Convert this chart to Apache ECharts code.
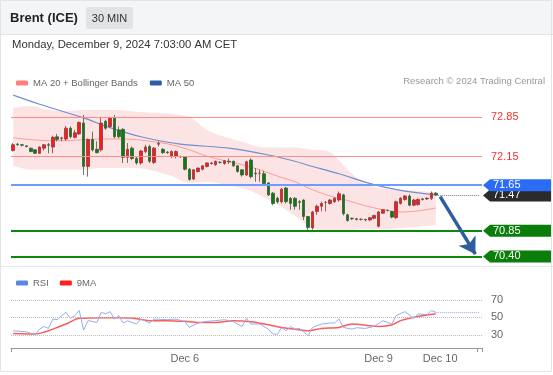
<!DOCTYPE html>
<html>
<head>
<meta charset="utf-8">
<script src="https://cdn.jsdelivr.net/npm/echarts@6/dist/echarts.min.js"></script>
<style>
html,body{margin:0;padding:0;background:#fff;}
#chart{width:553px;height:375px;}
</style>
</head>
<body>
<div id="chart"></div>
<script>
// ---------------- DATA ----------------
// candles: [open, close, low, high]
const ohlc = [
[72.26,72.36,72.24,72.39],[72.37,72.36,72.34,72.39],[72.36,72.35,72.33,72.37],[72.34,72.33,72.31,72.35],
[72.30,72.24,72.23,72.31],[72.27,72.21,72.20,72.28],[72.21,72.32,72.20,72.33],[72.30,72.36,72.26,72.37],
[72.36,72.35,72.21,72.39],[72.32,72.49,72.21,72.52],[72.50,72.45,72.42,72.55],[72.47,72.48,72.42,72.50],
[72.46,72.65,72.43,72.69],[72.65,72.50,72.47,72.68],[72.49,72.57,72.47,72.62],[72.55,72.75,72.53,72.77],
[72.74,71.98,71.83,72.88],[71.98,72.45,71.80,72.47],[72.45,72.27,72.24,72.59],[72.28,72.22,72.21,72.42],
[72.27,72.74,72.24,72.85],[72.77,72.65,72.62,72.80],[72.68,72.83,72.65,72.85],[72.83,72.50,72.47,72.88],
[72.62,72.50,72.47,72.68],[72.63,72.14,72.04,72.65],[72.14,72.28,72.04,72.39],[72.30,72.12,72.09,72.33],
[72.12,72.04,72.01,72.15],[72.04,72.25,72.01,72.27],[72.24,72.32,72.21,72.36],[72.33,72.07,72.04,72.36],
[72.05,72.30,72.02,72.32],[72.37,72.38,72.33,72.42],[72.28,72.22,72.20,72.30],[72.23,72.22,72.20,72.25],
[72.15,72.24,72.13,72.26],[72.16,72.24,72.12,72.26],[72.15,72.15,72.13,72.17],[72.15,71.93,71.91,72.16],
[71.93,71.75,71.73,71.95],[71.76,71.92,71.74,71.93],[71.89,71.95,71.87,71.96],[71.93,71.99,71.91,72.00],
[71.98,72.04,71.96,72.05],[72.03,72.04,72.01,72.06],[72.01,72.07,71.99,72.08],[72.05,72.05,72.03,72.07],
[72.03,72.08,72.01,72.09],[72.07,72.06,72.02,72.12],[72.07,71.99,71.97,72.08],[71.99,71.89,71.87,72.00],
[71.92,71.83,71.80,71.93],[71.83,72.06,71.81,72.08],[72.09,71.80,71.77,72.12],[71.86,71.85,71.71,71.95],
[71.86,71.86,71.71,71.92],[71.85,71.68,71.65,71.90],[71.69,71.48,71.46,71.70],[71.51,71.33,71.30,71.53],
[71.42,71.36,71.33,71.45],[71.36,71.58,71.33,71.60],[71.60,71.36,71.33,71.62],[71.42,71.33,71.22,71.44],
[71.42,71.28,71.22,71.44],[71.36,71.35,71.22,71.39],[71.39,71.10,71.04,71.40],[71.10,70.91,70.87,71.11],
[70.90,71.18,70.87,71.20],[71.19,71.28,71.13,71.31],[71.28,71.33,71.19,71.36],[71.35,71.35,71.19,71.37],
[71.33,71.39,71.31,71.41],[71.36,71.42,71.34,71.44],[71.39,71.50,71.36,71.54],[71.48,71.15,71.12,71.50],
[71.13,71.03,71.01,71.15],[71.07,71.06,71.04,71.08],[71.06,71.05,71.03,71.07],[71.05,71.05,71.03,71.07],
[71.05,71.04,71.02,71.06],[71.04,71.08,71.02,71.09],[71.07,71.12,71.05,71.13],[70.93,71.18,70.91,71.20],
[71.16,71.22,71.15,71.23],[71.21,71.21,71.19,71.22],[71.19,71.09,71.07,71.20],[71.08,71.36,71.06,71.38],
[71.33,71.42,71.31,71.44],[71.40,71.46,71.38,71.48],[71.46,71.30,71.28,71.49],[71.30,71.39,71.28,71.41],
[71.31,71.40,71.29,71.42],[71.40,71.41,71.38,71.43],[71.41,71.42,71.39,71.44],[71.42,71.51,71.39,71.54],
[71.51,71.48,71.46,71.53]
];
const futureSlots = 10;

// MA 20 + Bollinger bands (read at every 4th candle)
const bandIdx = [0,4,8,12,16,20,24,28,32,36,40,44,48,52,56,60,64,68,72,76,80,84,88,92,96];
const ma20    = [72.48,72.45,72.43,72.43,72.45,72.46,72.46,72.45,72.41,72.36,72.27,72.16,72.08,72.01,71.92,71.81,71.71,71.57,71.46,71.38,71.29,71.22,71.18,71.20,71.25];
const bbUpper = [73.01,73.04,72.97,72.95,72.97,72.97,72.97,72.94,72.92,72.90,72.85,72.62,72.50,72.41,72.32,72.31,72.31,72.27,72.23,71.92,71.67,71.59,71.57,71.55,71.53];
const bbLower = [71.99,71.92,71.92,71.92,71.92,71.95,71.95,71.95,71.90,71.81,71.69,71.71,71.66,71.60,71.48,71.31,71.11,70.90,70.85,70.85,70.88,70.88,70.90,70.92,70.95];

// MA 50
const ma50Idx = [0,6,16,22,29,38,49,58,64,67,74,82,88,96];
const ma50    = [73.23,73.07,72.83,72.66,72.50,72.37,72.30,72.18,72.07,72.00,71.85,71.66,71.56,71.48];

// key levels
const levels     = [72.85, 72.15, 71.47, 71.65, 70.85, 70.40];
const levelKinds = ['res','res','last','pivot','sup','sup'];

// forecast arrow (candle index, price)
const arrowFrom = [97, 71.45];
const arrowTo   = [105, 70.44];

// RSI
const rsiIdx  = [0,3,5,6,7,8,9,10,12,13,14,15,16,17,19,20,21,22,23,24,25,26,28,29,31,32,35,37,39,40,42,44,46,48,50,52,53,54,56,58,59,60,61,62,63,64,65,66,67,68,70,72,73,74,75,77,78,80,82,84,86,87,89,91,92,94,95,96];
const rsiVals = [34.6,33.5,30,36.5,39.6,37.3,48,47.3,55.8,48.8,52,57.7,35.4,46.2,44.2,55.8,53.8,56.5,48,52,43.5,46,42.3,48,43.5,48,47.3,48,45,38.5,43.5,45.4,46.2,47.3,45,39.6,48.8,42.3,42.3,36.5,30.8,30.8,38.5,34.6,39.6,36.5,37.3,33.5,28.8,38.5,42.3,43.5,43.5,48,38.5,36.5,38.1,37.3,39.6,46.2,42.3,52,56.5,48.8,53.8,53,57.7,55.8];
const rsiMaIdx  = [0,5,7,9,12,15,20,24,27,31,35,39,42,46,50,54,58,61,64,67,70,74,77,81,83,86,88,91,96];
const rsiMaVals = [31.5,31.0,33,36.5,42.3,48.8,49.6,49.6,49.3,46.2,46.2,45.4,44.2,44.2,46.2,45,41.5,38.5,36.5,34.6,37.3,38.5,42.3,40.4,39.6,41.2,46.2,50,54];
const rsiLevels = [70, 50, 30];

// x tick labels
const tickIdx    = [39, 83, 97];
const tickLabels = ['Dec 6', 'Dec 9', 'Dec 10'];

// texts
const titleText = 'Brent (ICE)';
const periodText = '30 MIN';
const dateText = 'Monday, December 9, 2024 7:03:00 AM CET';
const creditText = 'Research \u00A9 2024 Trading Central';

// ---------------- BUILD ----------------
const FONT = '"Liberation Sans", Arial, sans-serif';
const categories = [];
for (let i = 0; i < ohlc.length + futureSlots; i++) categories.push('b' + i);
const lastIdx = ohlc.length - 1;
const lastCat = categories.length - 1;
const pairs = (idx, vals) => idx.map((x, k) => [x, vals[k]]);

const levelLine = {
  res:   { color: '#ff8c8c', width: 1, type: 'solid' },
  pivot: { color: '#6d9bff', width: 2, type: 'solid' },
  sup:   { color: '#0a8a0a', width: 2, type: 'solid' },
  last:  { color: '#777', width: 1, type: 'dotted' }
};
const tagFill = { pivot: '#2a6cf5', last: '#2b2b2b', sup: '#0a7d0a' };

const markLineData = [];
levels.forEach((v, k) => {
  const kind = levelKinds[k];
  if (kind === 'last') {
    markLineData.push([{ coord: [lastIdx, v], lineStyle: levelLine.last }, { coord: [lastCat, v] }]);
  } else {
    markLineData.push({ yAxis: v, lineStyle: levelLine[kind] });
  }
});
markLineData.push([
  { coord: arrowFrom, symbol: 'none', lineStyle: { color: '#2e5e9e', width: 3.5, type: 'solid' } },
  { coord: arrowTo, symbol: 'arrow', symbolSize: [15, 16] }
]);

const chart = echarts.init(document.getElementById('chart'), null, { renderer: 'canvas' });
const option = {
  animation: false,
  backgroundColor: '#fff',
  textStyle: { fontFamily: FONT },
  grid: [
    { left: 11, right: 71, top: 90, height: 175, containLabel: false, outerBoundsMode: 'none' },
    { left: 11, right: 71, top: 291, height: 57, containLabel: false, outerBoundsMode: 'none' }
  ],
  legend: [
    {
      data: ['MA 20 + Bollinger Bands', 'MA 50'],
      left: 11, top: 73, icon: 'roundRect', itemWidth: 12, itemHeight: 5, itemGap: 12,
      textStyle: { fontSize: 9.5, color: '#666', fontFamily: FONT }, selectedMode: false
    },
    {
      data: ['RSI', '9MA'],
      left: 11, top: 273, icon: 'roundRect', itemWidth: 12, itemHeight: 5, itemGap: 11,
      textStyle: { fontSize: 9.5, color: '#666', fontFamily: FONT }, selectedMode: false
    }
  ],
  xAxis: [
    { type: 'category', gridIndex: 0, data: categories, boundaryGap: true, show: false },
    {
      type: 'category', gridIndex: 1, data: categories, boundaryGap: true,
      axisLine: { show: true, lineStyle: { color: '#999', width: 1 } },
      axisTick: { show: true, length: 4, lineStyle: { color: '#999' }, interval: (i) => i === 0 || i === lastCat },
      axisLabel: {
        show: true, color: '#666', fontSize: 11, margin: 5, fontFamily: FONT,
        interval: (i) => tickIdx.indexOf(i) >= 0,
        formatter: (val, i) => { const k = tickIdx.indexOf(i); return k >= 0 ? tickLabels[k] : ''; }
      },
      splitLine: { show: false }
    }
  ],
  yAxis: [
    { type: 'value', gridIndex: 0, min: 70.25, max: 73.32, show: false, splitLine: { show: false } },
    { type: 'value', gridIndex: 1, min: 15, max: 80, show: false, splitLine: { show: false } }
  ],
  series: [
    {
      name: 'bbLower', type: 'line', xAxisIndex: 0, yAxisIndex: 0, stack: 'bb', smooth: 0.3,
      data: pairs(bandIdx, bbLower), showSymbol: false, silent: true,
      lineStyle: { opacity: 0 }, z: 1
    },
    {
      name: 'bbBand', type: 'line', xAxisIndex: 0, yAxisIndex: 0, stack: 'bb', smooth: 0.3,
      data: bandIdx.map((x, k) => [x, +(bbUpper[k] - bbLower[k]).toFixed(3)]),
      showSymbol: false, silent: true,
      lineStyle: { opacity: 0 }, areaStyle: { color: '#fde4e4', opacity: 1 }, z: 1
    },
    {
      name: 'MA 20 + Bollinger Bands', type: 'line', xAxisIndex: 0, yAxisIndex: 0, smooth: 0.3,
      data: pairs(bandIdx, ma20), showSymbol: false, silent: true,
      itemStyle: { color: '#ff7f7f' }, lineStyle: { color: '#ff9a9a', width: 1 }, z: 2
    },
    {
      name: 'MA 50', type: 'line', xAxisIndex: 0, yAxisIndex: 0, smooth: 0.3,
      data: pairs(ma50Idx, ma50), showSymbol: false, silent: true,
      itemStyle: { color: '#2f5ea8' }, lineStyle: { color: '#6f8fd0', width: 1.2 }, z: 2
    },
    {
      name: 'Brent', type: 'candlestick', xAxisIndex: 0, yAxisIndex: 0,
      data: ohlc, barWidth: 3, z: 3,
      itemStyle: {
        color: '#ff1a1a', color0: '#0b7d0b',
        borderColor: '#8a3a3a', borderColor0: '#3d5a3d', borderWidth: 0.8
      },
      markLine: {
        silent: true, symbol: 'none', animation: false, z: 4,
        label: { show: false },
        emphasis: { disabled: true },
        data: markLineData
      }
    },
    {
      name: 'tags', type: 'custom', xAxisIndex: 0, yAxisIndex: 0, clip: false, silent: true, z: 6,
      data: levels.map((v) => [0, v]),
      encode: { x: 0, y: 1 },
      renderItem: function (params, api) {
        const v = api.value(1);
        const y = api.coord([0, v])[1];
        const cs = params.coordSys;
        const x0 = cs.x + cs.width + 1;
        const x1 = 551;
        const kind = levelKinds[params.dataIndex];
        const txt = v.toFixed(2);
        if (kind === 'res') {
          return {
            type: 'text', x: x0 + 8, y: y,
            style: { text: txt, fill: '#ff2d2d', font: '11px ' + FONT, align: 'left', verticalAlign: 'middle', textAlign: 'left', textVerticalAlign: 'middle' }
          };
        }
        return {
          type: 'group',
          children: [
            { type: 'polygon', shape: { points: [[x0, y], [x0 + 7, y - 6], [x1, y - 6], [x1, y + 6], [x0 + 7, y + 6]] }, style: { fill: tagFill[kind] } },
            { type: 'text', x: x0 + 10, y: y, style: { text: txt, fill: '#fff', font: '11px ' + FONT, align: 'left', verticalAlign: 'middle', textAlign: 'left', textVerticalAlign: 'middle' } }
          ]
        };
      }
    },
    {
      name: 'RSI', type: 'line', xAxisIndex: 1, yAxisIndex: 1,
      data: pairs(rsiIdx, rsiVals), showSymbol: false, silent: true,
      itemStyle: { color: '#5b86e5' }, lineStyle: { color: '#95aef0', width: 1 }, z: 3,
      markLine: {
        silent: true, symbol: 'none', animation: false,
        emphasis: { disabled: true },
        data: [
          ...rsiLevels.map((v) => ({
            yAxis: v,
            lineStyle: { color: '#bbb', width: 1, type: 'dotted' },
            label: { show: true, position: 'end', formatter: String(v), color: '#666', fontSize: 11, distance: 9, fontFamily: FONT }
          })),
          [
            { coord: [lastIdx, rsiVals[rsiVals.length - 1]], lineStyle: { color: '#95aef0', width: 1, type: 'dotted' }, label: { show: false } },
            { coord: [lastCat, rsiVals[rsiVals.length - 1]] }
          ]
        ]
      }
    },
    {
      name: '9MA', type: 'line', xAxisIndex: 1, yAxisIndex: 1, smooth: 0.3,
      data: pairs(rsiMaIdx, rsiMaVals), showSymbol: false, silent: true,
      itemStyle: { color: '#ff1f1f' }, lineStyle: { color: '#ff5a5a', width: 1.5 }, z: 2
    }
  ],
  graphic: [
    { type: 'rect', z: -10, silent: true, shape: { x: 0, y: 0, width: 553, height: 34 }, style: { fill: '#f4f5f6' } },
    { type: 'line', silent: true, shape: { x1: 0, y1: 34.5, x2: 553, y2: 34.5 }, style: { stroke: '#e4e4e4', lineWidth: 1 } },
    { type: 'line', silent: true, shape: { x1: 0, y1: 266.5, x2: 553, y2: 266.5 }, style: { stroke: '#e8e8e8', lineWidth: 1 } },
    { type: 'rect', silent: true, shape: { x: 0.5, y: 0.5, width: 551, height: 371 }, style: { fill: 'none', stroke: '#e4e4e4', lineWidth: 1 } },
    { type: 'rect', silent: true, shape: { x: 86, y: 7, width: 47, height: 22, r: 2 }, style: { fill: '#e1e3e6' } },
    { type: 'text', silent: true, x: 109.5, y: 18.5, style: { text: periodText, fill: '#333', font: '11px ' + FONT, align: 'center', verticalAlign: 'middle', textAlign: 'center', textVerticalAlign: 'middle' } },
    { type: 'text', silent: true, x: 10, y: 18.5, style: { text: titleText, fill: '#222', font: 'bold 13px ' + FONT, align: 'left', verticalAlign: 'middle', textAlign: 'left', textVerticalAlign: 'middle' } },
    { type: 'text', silent: true, x: 12, y: 45, style: { text: dateText, fill: '#333', font: '11.3px ' + FONT, align: 'left', verticalAlign: 'middle', textAlign: 'left', textVerticalAlign: 'middle' } },
    { type: 'text', silent: true, x: 545, y: 81, style: { text: creditText, fill: '#999', font: '9.5px ' + FONT, align: 'right', verticalAlign: 'middle', textAlign: 'right', textVerticalAlign: 'middle' } }
  ]
};
chart.setOption(option);
</script>
</body>
</html>
